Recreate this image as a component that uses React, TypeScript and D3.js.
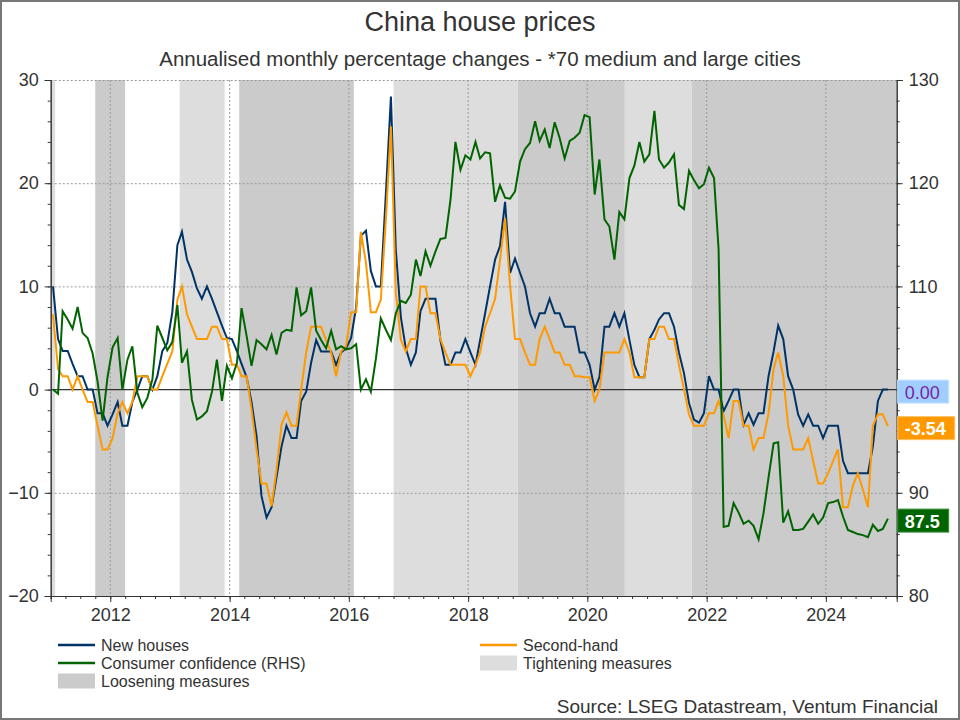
//@ts-nocheck
import * as d3 from "d3";
import { useEffect, useRef } from "react";

// monthly readings, Jan 2011 .. Jan 2025
const newHouses = [
  10, 4.9, 3.75, 3.75, 2.5, 1.3, 1.3, 0, 0, -2.3, -2.3, -3.5,
  -2.4, -1.2, -3.5, -3.5, -1.2, 0, 1.3, 1.3, 0, 1.3, 3.75, 4.5,
  7.5, 14, 15.3, 12.6, 11.4, 9.8, 8.8, 10, 8.8, 7.5, 6.2, 5,
  4.9, 3.7, 2.5, 1.2, -1.2, -4.5, -10.3, -12.4, -11.4, -8.5, -5.5, -3.5,
  -4.7, -4.7, -1.1, -0.2, 2.6, 4.8, 3.7, 3.7, 3.7, 2.4, 3.6, 4,
  5, 8, 14.9, 15.4, 11.5, 10, 10, 19, 28.4, 13.5, 7, 4,
  2.4, 3.6, 7.6, 8.8, 8.8, 8.8, 4.8, 2.4, 2.4, 3.6, 3.6, 4.9,
  3.6, 2.4, 4.8, 7.4, 10, 12.6, 13.9, 18.2, 11.3, 12.7, 11.3, 10,
  7.4, 6.1, 7.4, 7.4, 8.8, 7.4, 7.4, 6.1, 6.1, 6.1, 3.6, 3.6,
  2.4, 0, 1.2, 6.1, 6.1, 7.4, 6.1, 7.4, 4.8, 2.4, 1.2, 1.2,
  4.9, 5.8, 6.8, 7.4, 7.4, 6.1, 3.6, 1.6, -1.3, -2.9, -3.2, -2.3,
  1.3, 0, 0, -2.1, -1.1, 0, 0, -3.4, -2.3, -3.4, -2.3, -2.3,
  1.3, 3.7, 6.2, 4.9, 1.3, 0, -2.4, -3.5, -2.4, -3.5, -3.5, -4.7,
  -3.5, -3.5, -3.5, -6.9, -8.1, -8.1, -8.1, -8.1, -8.1, -5.5, -1.1, 0,
  0
];

const secondHand = [
  7.3, 2, 1.3, 1.3, 0, 1.3, 0, -1.2, -1.2, -3.5, -5.8, -5.8,
  -4.7, -2.3, -1.2, -2.3, -1.2, 1.3, 1.3, 1.3, 0, 0, 1.3, 2.5,
  3.7, 8.7, 10, 7.3, 6.1, 4.9, 4.9, 4.9, 6.1, 6.1, 4.9, 4.9,
  2.4, 2.4, 1.3, 1.3, -1.9, -5.8, -9.1, -9.1, -11.3, -7.8, -3.4, -2.2,
  -3.5, -3.5, 0, 3.6, 6.1, 6.1, 6.1, 4.8, 3.6, 1.3, 3.7, 4.2,
  7.5, 7.5, 15.3, 12.3, 7.5, 7.5, 8.7, 16.5, 25.5, 9.4, 4.8, 3.7,
  4.9, 4.9, 10, 10, 7.4, 7.4, 4.9, 3.6, 2.4, 2.4, 2.4, 2.4,
  1.3, 2.4, 3.6, 6.1, 7.4, 8.8, 12.5, 16.6, 10, 4.9, 4.9, 3.6,
  2.4, 2.4, 4.9, 6.1, 4.9, 3.6, 3.6, 2.4, 2.4, 1.3, 1.3, 1.2,
  1.2, -1.1, 0, 3.6, 3.6, 3.6, 3.6, 4.9, 3.6, 1.2, 1.2, 1.2,
  4.9, 4.9, 6.1, 6.1, 4.9, 4.9, 2.4, 0, -2.4, -3.5, -3.5, -3.5,
  -2.3, -2.3, -1.1, -2.5, -4.7, -1.1, -1.1, -3.5, -3.5, -5.8, -4.7, -4.7,
  -2.3, 2, 3.6, 1.3, -3.5, -5.8, -5.8, -5.8, -4.7, -6.9, -9.1, -9.1,
  -8.1, -6.9, -5.8, -11.4, -11.4, -9.3, -8.1, -9.7, -11.4, -3.5, -2.4, -2.4,
  -3.54
];

const consumerConfidence = [
  100, 99.6, 107.6, 106.8, 105.9, 108, 105.5, 105, 103.5, 100.8, 97, 101.2,
  104.1, 105, 100, 102.9, 104.2, 99.7, 98.3, 99.2, 101, 106.2, 105, 103.8,
  104.6, 108.2, 102.6, 103.7, 99, 97.1, 97.4, 97.9, 99.8, 102.9, 98.9, 102.3,
  101.1, 102.6, 107.9, 105.2, 102.3, 104.8, 104.4, 103.9, 105.3, 103.4, 105.5, 105.8,
  105.7, 109.9, 107.2, 107.6, 109.9, 105.7, 104.8, 104, 105.7, 103.9, 104.2, 103.9,
  104, 104.4, 100, 101, 99.8, 103, 106.9, 105.8, 104.8, 107.4, 108.6, 108.4,
  109.2, 112.6, 111, 113.4, 112, 113.4, 114.6, 114.7, 118.4, 124, 121.3, 122.7,
  122.3, 124, 122.4, 123, 122.9, 118.2, 119.8, 118.6, 118.5, 119.2, 122.1, 123.3,
  123.9, 126, 124.1, 125.2, 123.4, 125.9, 124.4, 122.4, 124.1, 124.4, 124.9, 126.6,
  126.4, 118.9, 122.3, 116.5, 115.8, 112.6, 117.2, 116.5, 120.5, 121.7, 124, 122.1,
  122.8, 127, 122.3, 121.5, 122, 122.8, 117.9, 117.5, 121.2, 120.3, 119.5, 119.9,
  121.5, 120.5, 113.6, 86.7, 86.8, 89, 88.1, 87, 87.3, 86.8, 85.5, 88,
  91.5, 94.8, 94.9, 87.1, 88.2, 86.4, 86.4, 86.5, 87.2, 87.9, 87, 87.6,
  89, 89.1, 89.3, 87.7, 86.4, 86.2, 86, 85.9, 85.7, 86.9, 86.3, 86.5,
  87.5
];

// policy periods
const tightening = [
  ["2011-01-01", "2011-01-28"],
  ["2013-03-01", "2013-12-01"],
  ["2016-10-01", "2018-11-01"],
  ["2020-08-17", "2021-10-01"]
];
const loosening = [
  ["2011-10-01", "2012-04-01"],
  ["2014-03-01", "2016-02-01"],
  ["2018-11-01", "2020-08-17"],
  ["2021-10-01", "2025-03-10"]
];

const leftTicks = [-20, -10, 0, 10, 20, 30];
const rightTicks = [80, 90, 100, 110, 120, 130];
const yearTicks = [2012, 2014, 2016, 2018, 2020, 2022, 2024];

const FONT = "'Liberation Sans', Arial, sans-serif";
const TXT = "#333";
const C_NEW = "#003366";
const C_SEC = "#ff9900";
const C_CONF = "#006400";
const C_TIGHT = "#dddddd";
const C_LOOSE = "#cbcbcb";

const HouseChart = () => {
  const ref = useRef(null);

  useEffect(() => {
    ref.current.innerHTML = "";
    const svg = d3.select(ref.current)
      .attr("width", 960)
      .attr("height", 720)
      .style("font-family", FONT);

    const left = 50.7, right = 896.7, top = 80, bottom = 596;
    const parse = d3.timeParse("%Y-%m-%d");

    const x = d3.scaleTime()
      .domain([new Date(2011, 0, 1), new Date(2025, 2, 10)])
      .range([left, right]);
    const yL = d3.scaleLinear().domain([-20, 30]).range([bottom, top]);
    const yR = d3.scaleLinear().domain([80, 130]).range([bottom, top]);

    const dates = newHouses.map((_, i) => new Date(2011, i, 15));

    // frame
    svg.append("rect")
      .attr("x", 1).attr("y", 1).attr("width", 958).attr("height", 718)
      .attr("fill", "#fff").attr("stroke", "#777").attr("stroke-width", 2);

    // title
    svg.append("text")
      .attr("x", 480).attr("y", 31)
      .attr("text-anchor", "middle")
      .attr("font-size", 27).attr("fill", TXT)
      .text("China house prices");
    svg.append("text")
      .attr("x", 480).attr("y", 66)
      .attr("text-anchor", "middle")
      .attr("font-size", 20.5).attr("fill", TXT)
      .text("Annualised monthly percentage changes - *70 medium and large cities");

    // shaded periods
    const band = (list, color) => {
      svg.append("g")
        .selectAll("rect")
        .data(list)
        .enter()
        .append("rect")
        .attr("x", d => x(parse(d[0])))
        .attr("width", d => x(parse(d[1])) - x(parse(d[0])))
        .attr("y", top)
        .attr("height", bottom - top)
        .attr("fill", color);
    };
    band(tightening, C_TIGHT);
    band(loosening, C_LOOSE);

    // grid
    const grid = svg.append("g")
      .attr("stroke", "#9a9a9a")
      .attr("stroke-width", 1)
      .attr("stroke-dasharray", "2,2");
    grid.selectAll("line.h")
      .data(leftTicks.filter(d => d !== 0 && d !== -20))
      .enter().append("line")
      .attr("x1", left).attr("x2", right)
      .attr("y1", d => yL(d) + 0.5).attr("y2", d => yL(d) + 0.5);
    grid.selectAll("line.v")
      .data(yearTicks)
      .enter().append("line")
      .attr("x1", d => x(new Date(d, 0, 1))).attr("x2", d => x(new Date(d, 0, 1)))
      .attr("y1", top).attr("y2", bottom);

    // zero line
    svg.append("line")
      .attr("x1", left).attr("x2", right)
      .attr("y1", yL(0)).attr("y2", yL(0))
      .attr("stroke", "#333").attr("stroke-width", 1.2);

    // series
    const lineL = d3.line().x((d, i) => x(dates[i])).y(d => yL(d));
    const lineR = d3.line().x((d, i) => x(dates[i])).y(d => yR(d));
    svg.append("path").datum(newHouses)
      .attr("d", lineL).attr("fill", "none")
      .attr("stroke", C_NEW).attr("stroke-width", 2);
    svg.append("path").datum(secondHand)
      .attr("d", lineL).attr("fill", "none")
      .attr("stroke", C_SEC).attr("stroke-width", 2);
    svg.append("path").datum(consumerConfidence)
      .attr("d", lineR).attr("fill", "none")
      .attr("stroke", C_CONF).attr("stroke-width", 2);

    // axes
    const styleAxis = g => {
      g.select(".domain").attr("stroke", "#333");
      g.selectAll(".tick line").attr("stroke", "#333");
      g.selectAll("text").attr("font-size", 18).attr("fill", TXT).attr("font-family", FONT);
    };
    const minorL = d3.range(-20, 31, 2);
    svg.append("g").attr("transform", `translate(${left},0)`)
      .call(d3.axisLeft(yL).tickValues(minorL).tickSize(3).tickFormat(""))
      .call(styleAxis);
    svg.append("g").attr("transform", `translate(${left},0)`)
      .call(d3.axisLeft(yL).tickValues(leftTicks).tickSize(6).tickPadding(6))
      .call(styleAxis);

    // the 100 label sits under the last-value tag, as in the source chart
    const minorR = d3.range(80, 131, 2);
    svg.append("g").attr("transform", `translate(${right},0)`)
      .call(d3.axisRight(yR).tickValues(minorR).tickSize(3).tickFormat(""))
      .call(styleAxis);
    svg.append("g").attr("transform", `translate(${right},0)`)
      .call(d3.axisRight(yR).tickValues(rightTicks).tickSize(6).tickPadding(6)
        .tickFormat(d => d === 100 ? "" : d))
      .call(styleAxis);

    const quarters = d3.timeMonth.every(3).range(new Date(2011, 0, 1), new Date(2025, 2, 2));
    svg.append("g").attr("transform", `translate(0,${bottom})`)
      .call(d3.axisBottom(x).tickValues(quarters).tickSize(3).tickFormat(""))
      .call(styleAxis);
    svg.append("g").attr("transform", `translate(0,${bottom})`)
      .call(d3.axisBottom(x)
        .tickValues(yearTicks.map(d => new Date(d, 0, 1)))
        .tickSize(6).tickPadding(6)
        .tickFormat(d3.timeFormat("%Y")))
      .call(styleAxis);

    // last value tags
    const tags = [
      { v: yL(newHouses[newHouses.length - 1]), text: "0.00", fill: "#a0cfff", stroke: "#c6e2ff", color: "#7a1fa2", w: 51, bold: false },
      { v: yL(secondHand[secondHand.length - 1]), text: "-3.54", fill: C_SEC, stroke: "#ffc060", color: "#fff", w: 57, bold: true },
      { v: yR(consumerConfidence[consumerConfidence.length - 1]), text: "87.5", fill: C_CONF, stroke: "#3c8c3c", color: "#fff", w: 51, bold: true }
    ];
    const tag = svg.append("g").selectAll("g").data(tags).enter().append("g");
    tag.append("rect")
      .attr("x", right + 1).attr("y", d => d.v - 9.5)
      .attr("width", d => d.w).attr("height", 23)
      .attr("fill", d => d.fill).attr("stroke", d => d.stroke);
    tag.append("text")
      .attr("x", right + 8).attr("y", d => d.v + 9)
      .attr("font-size", 18)
      .attr("font-weight", d => d.bold ? "bold" : "normal")
      .attr("fill", d => d.color)
      .text(d => d.text);

    // legend
    const legend = [
      { label: "New houses", kind: "line", color: C_NEW, x: 58, y: 645 },
      { label: "Second-hand", kind: "line", color: C_SEC, x: 480, y: 645 },
      { label: "Consumer confidence (RHS)", kind: "line", color: C_CONF, x: 58, y: 663 },
      { label: "Tightening measures", kind: "box", color: C_TIGHT, x: 480, y: 663 },
      { label: "Loosening measures", kind: "box", color: C_LOOSE, x: 58, y: 681 }
    ];
    const lg = svg.append("g").selectAll("g").data(legend).enter().append("g")
      .attr("transform", d => `translate(${d.x},${d.y})`);
    lg.filter(d => d.kind === "line").append("line")
      .attr("x1", 0).attr("x2", 37).attr("y1", 0).attr("y2", 0)
      .attr("stroke", d => d.color).attr("stroke-width", 2.5);
    lg.filter(d => d.kind === "box").append("rect")
      .attr("x", 0).attr("y", -7.5).attr("width", 37).attr("height", 15)
      .attr("fill", d => d.color);
    lg.append("text")
      .attr("x", 43).attr("y", 5.5)
      .attr("font-size", 16).attr("fill", TXT)
      .text(d => d.label);

    svg.append("text")
      .attr("x", 938).attr("y", 713)
      .attr("text-anchor", "end")
      .attr("font-size", 19).attr("fill", TXT)
      .text("Source: LSEG Datastream, Ventum Financial");
  }, []);

  return <svg ref={ref} style={{ display: "block" }}></svg>;
};

export default function App() {
  return (
    <div>
      <style>{"body{margin:0}"}</style>
      <HouseChart />
    </div>
  );
}
